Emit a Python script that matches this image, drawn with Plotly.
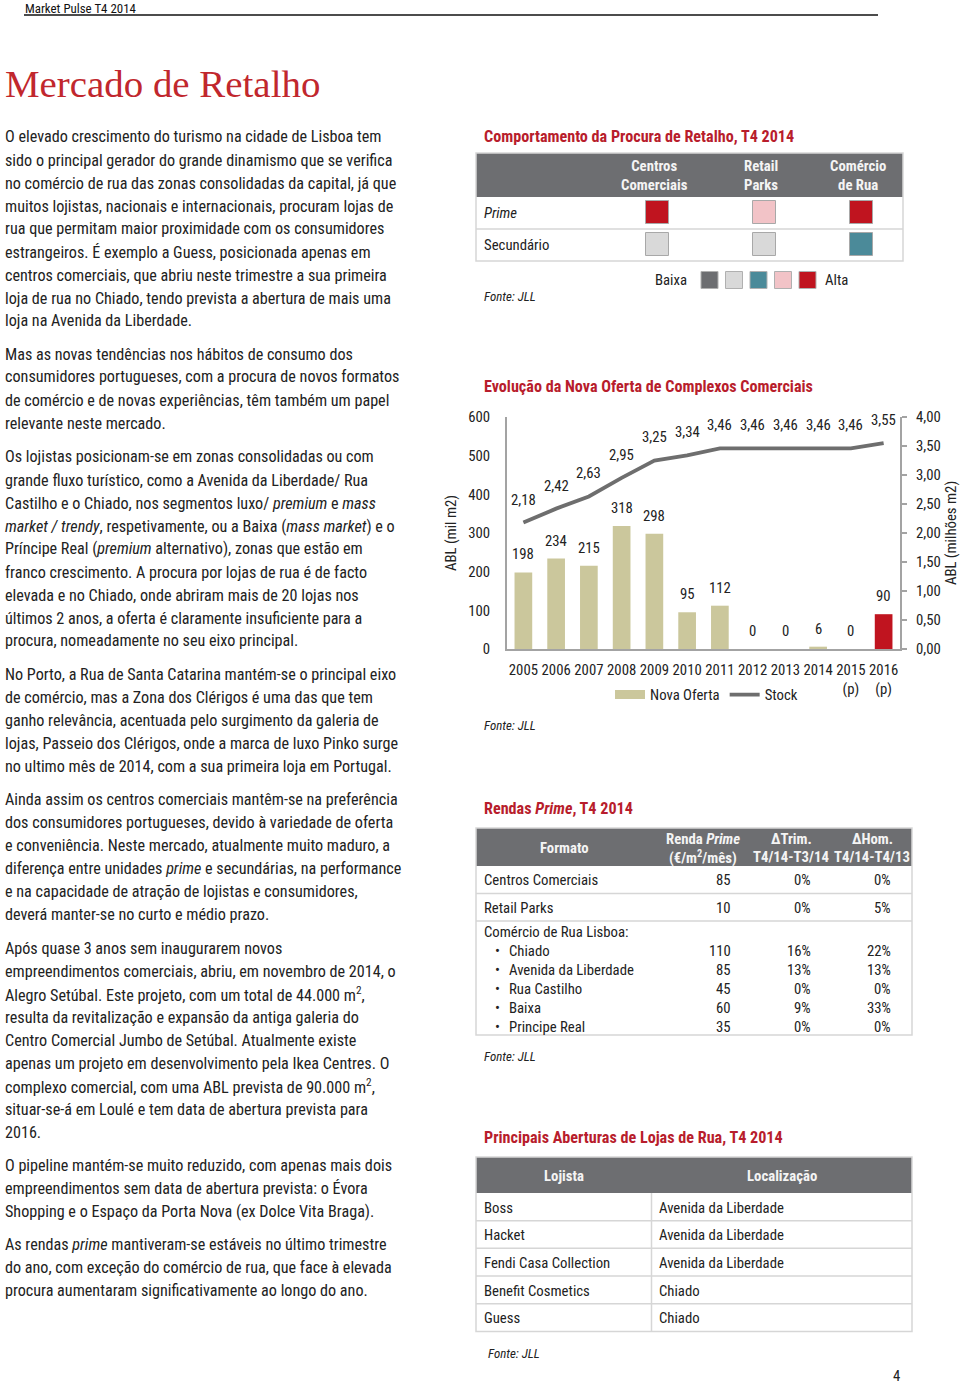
import plotly.graph_objects as go

W, H = 960, 1387

# ---------------- data ----------------
years = ["2005", "2006", "2007", "2008", "2009", "2010", "2011", "2012", "2013", "2014", "2015 (p)", "2016 (p)"]
year_labels = ["2005", "2006", "2007", "2008", "2009", "2010", "2011", "2012", "2013", "2014", "2015<br>(p)", "2016<br>(p)"]
nova_oferta = [198, 234, 215, 318, 298, 95, 112, 0, 0, 6, 0, 90]
stock = [2.18, 2.42, 2.63, 2.95, 3.25, 3.34, 3.46, 3.46, 3.46, 3.46, 3.46, 3.55]
left_ticks = [0, 100, 200, 300, 400, 500, 600]
right_ticks = [0, 0.5, 1, 1.5, 2, 2.5, 3, 3.5, 4]

procura_cols = ["Centros<br>Comerciais", "Retail<br>Parks", "Comércio<br>de Rua"]
procura_rows = ["<i>Prime</i>", "Secundário"]
procura_levels = [[4, 3, 4], [1, 1, 2]]   # 0 = Baixa ... 4 = Alta
level_colors = ["#6D6E71", "#D9D9D9", "#4B8A99", "#F2C3C7", "#C0141F"]

rendas_formato = ["Centros Comerciais", "Retail Parks", "Comércio de Rua Lisboa:", "Chiado",
                  "Avenida da Liberdade", "Rua Castilho", "Baixa", "Principe Real"]
rendas_bullet = [False, False, False, True, True, True, True, True]
rendas_valor = ["85", "10", "", "110", "85", "45", "60", "35"]
rendas_trim = ["0%", "0%", "", "16%", "13%", "0%", "9%", "0%"]
rendas_hom = ["0%", "5%", "", "22%", "13%", "0%", "33%", "0%"]

lojistas = ["Boss", "Hacket", "Fendi Casa Collection", "Benefit Cosmetics", "Guess"]
localizacao = ["Avenida da Liberdade", "Avenida da Liberdade", "Avenida da Liberdade", "Chiado", "Chiado"]

paragraphs = [
    ["O elevado crescimento do turismo na cidade de Lisboa tem",
     "sido o principal gerador do grande dinamismo que se verifica",
     "no comércio de rua das zonas consolidadas da capital, já que",
     "muitos lojistas, nacionais e internacionais, procuram lojas de",
     "rua que permitam maior proximidade com os consumidores",
     "estrangeiros. É exemplo a Guess, posicionada apenas em",
     "centros comerciais, que abriu neste trimestre a sua primeira",
     "loja de rua no Chiado, tendo prevista a abertura de mais uma",
     "loja na Avenida da Liberdade."],
    ["Mas as novas tendências nos hábitos de consumo dos",
     "consumidores portugueses, com a procura de novos formatos",
     "de comércio e de novas experiências, têm também um papel",
     "relevante neste mercado."],
    ["Os lojistas posicionam-se em zonas consolidadas ou com",
     "grande fluxo turístico, como a Avenida da Liberdade/ Rua",
     "Castilho e o Chiado, nos segmentos luxo/ <i>premium</i> e <i>mass</i>",
     "<i>market / trendy</i>, respetivamente, ou a Baixa (<i>mass market</i>) e o",
     "Príncipe Real (<i>premium</i> alternativo), zonas que estão em",
     "franco crescimento. A procura por lojas de rua é de facto",
     "elevada e no Chiado, onde abriram mais de 20 lojas nos",
     "últimos 2 anos, a oferta é claramente insuficiente para a",
     "procura, nomeadamente no seu eixo principal."],
    ["No Porto, a Rua de Santa Catarina mantém-se o principal eixo",
     "de comércio, mas a Zona dos Clérigos é uma das que tem",
     "ganho relevância, acentuada pelo surgimento da galeria de",
     "lojas, Passeio dos Clérigos, onde a marca de luxo Pinko surge",
     "no ultimo mês de 2014, com a sua primeira loja em Portugal."],
    ["Ainda assim os centros comerciais mantêm-se na preferência",
     "dos consumidores portugueses, devido à variedade de oferta",
     "e conveniência. Neste mercado, atualmente muito maduro, a",
     "diferença entre unidades <i>prime</i> e secundárias, na performance",
     "e na capacidade de atração de lojistas e consumidores,",
     "deverá manter-se no curto e médio prazo."],
    ["Após quase 3 anos sem inaugurarem novos",
     "empreendimentos comerciais, abriu, em novembro de 2014, o",
     "Alegro Setúbal. Este projeto, com um total de 44.000 m<sup>2</sup>,",
     "resulta da revitalização e expansão da antiga galeria do",
     "Centro Comercial Jumbo de Setúbal. Atualmente existe",
     "apenas um projeto em desenvolvimento pela Ikea Centres. O",
     "complexo comercial, com uma ABL prevista de 90.000 m<sup>2</sup>,",
     "situar-se-á em Loulé e tem data de abertura prevista para",
     "2016."],
    ["O pipeline mantém-se muito reduzido, com apenas mais dois",
     "empreendimentos sem data de abertura prevista: o Évora",
     "Shopping e o Espaço da Porta Nova (ex Dolce Vita Braga)."],
    ["As rendas <i>prime</i> mantiveram-se estáveis no último trimestre",
     "do ano, com exceção do comércio de rua, que face à elevada",
     "procura aumentaram significativamente ao longo do ano."],
]
paragraph_top = [137, 354, 457, 674, 799, 948, 1165, 1244]

# ---------------- style ----------------
NARROW = "Roboto Condensed, Liberation Sans Narrow, Arial Narrow, sans-serif"
K = 0.923  # size factor so Roboto Condensed matches the original narrow face widths
SERIF = "Liberation Serif, Times New Roman, serif"
TXT = "#222222"
RED = "#B81D2C"
HEAD = "#6D6E71"
GRID = "#D6D6D6"
AX = "#A3A3A3"
BEIGE = "#CBC79C"
BAR_RED = "#C0141F"
LINE = "#6E6E6E"
S_BODY = 17.5 * K
S_HEAD = 17.5 * K
S_TAB = 16 * K
S_SRC = 14 * K

annotations = []
shapes = []


def X(x):
    return x / W


def Y(y):
    return 1 - y / H


def txt(x, y, s, size=S_BODY, color=TXT, anchor="left", family=NARROW, vanchor="middle"):
    if not s:
        return
    annotations.append(dict(xref="paper", yref="paper", x=X(x), y=Y(y), text=s, showarrow=False,
                            xanchor=anchor, yanchor=vanchor, align=anchor if anchor != "center" else "center",
                            font=dict(family=family, size=size, color=color), borderpad=0))


def rect(x0, y0, x1, y1, fill="rgba(0,0,0,0)", line="rgba(0,0,0,0)", lw=1):
    shapes.append(dict(type="rect", xref="paper", yref="paper", x0=X(x0), x1=X(x1), y0=Y(y1), y1=Y(y0),
                       fillcolor=fill, line=dict(color=line, width=lw), layer="above"))


def seg(x0, y0, x1, y1, color=GRID, lw=1.5):
    shapes.append(dict(type="line", xref="paper", yref="paper", x0=X(x0), x1=X(x1), y0=Y(y0), y1=Y(y1),
                       line=dict(color=color, width=lw), layer="above"))


# ---------------- page header ----------------
txt(24, 0, "Market Pulse T4 2014", size=14 * K, color="#111111", vanchor="top")
seg(24, 15, 878, 15, color="#111111", lw=1.5)
txt(4, 83, "Mercado de Retalho", size=38.9, color="#C1272D", family=SERIF)

for top, lines in zip(paragraph_top, paragraphs):
    for i, line in enumerate(lines):
        txt(4, top + 23 * i, line)

# ---------------- table: comportamento da procura ----------------
txt(483, 137, "<b>Comportamento da Procura de Retalho, T4 2014</b>", size=S_HEAD, color=RED)
rect(476, 153, 903, 197, fill=HEAD)
rect(476, 153, 903, 261, line=GRID, lw=1.5)
seg(476, 229, 903, 229)
col_cx = [654, 761, 858]
row_cy = [213, 245]
for cx, name in zip(col_cx, procura_cols):
    txt(cx, 175, "<b>" + name + "</b>", size=S_TAB, color="#F4F4F4", anchor="center")
for r, name in enumerate(procura_rows):
    txt(483, row_cy[r], name, size=S_TAB)
    for c, lvl in enumerate(procura_levels[r]):
        cx, cy = col_cx[c] + 3, row_cy[r] - 1
        rect(cx - 11.5, cy - 11.5, cx + 11.5, cy + 11.5, fill=level_colors[lvl], line="#A8A8A8", lw=1)
txt(688, 280, "Baixa", size=S_TAB, anchor="right")
for k, col in enumerate(level_colors):
    cx = 709.5 + 24.5 * k
    rect(cx - 8.5, 271.5, cx + 8.5, 288.5, fill=col, line="#B0B0B0", lw=1)
txt(824, 280, "Alta", size=S_TAB)
txt(483, 296, "<i>Fonte: JLL</i>", size=S_SRC)

# ---------------- chart: evolução da nova oferta ----------------
txt(483, 386, "<b>Evolução da Nova Oferta de Complexos Comerciais</b>", size=S_HEAD, color=RED)
txt(483, 725, "<i>Fonte: JLL</i>", size=S_SRC)

bar_colors = [BAR_RED if y == "2016 (p)" else BEIGE for y in years]

fig = go.Figure()
fig.add_trace(go.Bar(x=years, y=nova_oferta, marker=dict(color=bar_colors, line=dict(width=0)),
                     name="Nova Oferta", showlegend=False, yaxis="y"))
fig.add_trace(go.Scatter(x=[None], y=[None], mode="lines", line=dict(color=BEIGE, width=9),
                         name="Nova Oferta", yaxis="y", hoverinfo="skip"))
fig.add_trace(go.Scatter(x=years, y=stock, mode="lines", line=dict(color=LINE, width=3.8),
                         name="Stock", yaxis="y2"))

for i, v in enumerate(nova_oferta):
    annotations.append(dict(xref="x", yref="y", x=i, y=v, text=str(v), showarrow=False,
                            yanchor="bottom", yshift=7, font=dict(family=NARROW, size=S_TAB, color=TXT)))
for i, v in enumerate(stock):
    annotations.append(dict(xref="x", yref="y2", x=i, y=v, text=f"{v:.2f}".replace(".", ","),
                            showarrow=False, yanchor="bottom", yshift=12,
                            font=dict(family=NARROW, size=S_TAB, color=TXT)))

# ---------------- table: rendas prime ----------------
txt(483, 808, "<b>Rendas <i>Prime</i>, T4 2014</b>", size=S_HEAD, color=RED)
rect(476, 828, 912, 866, fill=HEAD)
rect(476, 828, 912, 1035, line=GRID, lw=1.5)
seg(476, 893.5, 912, 893.5)
seg(476, 921, 912, 921)
hc = "#F4F4F4"
txt(564, 848, "<b>Formato</b>", size=S_TAB, color=hc, anchor="center")
txt(703, 839, "<b>Renda <i>Prime</i></b>", size=S_TAB, color=hc, anchor="center")
txt(703, 857, "<b>(€/m<sup>2</sup>/mês)</b>", size=S_TAB, color=hc, anchor="center")
txt(791, 839, "<b>ΔTrim.</b>", size=S_TAB, color=hc, anchor="center")
txt(791, 857, "<b>T4/14-T3/14</b>", size=S_TAB, color=hc, anchor="center")
txt(872, 839, "<b>ΔHom.</b>", size=S_TAB, color=hc, anchor="center")
txt(872, 857, "<b>T4/14-T4/13</b>", size=S_TAB, color=hc, anchor="center")
rendas_y = [879.5, 907.5, 932, 950.5, 969.5, 988.5, 1007.5, 1026.5]
for i in range(len(rendas_formato)):
    y = rendas_y[i]
    if rendas_bullet[i]:
        txt(494, y, "•", size=S_TAB)
        txt(508, y, rendas_formato[i], size=S_TAB)
    else:
        txt(483, y, rendas_formato[i], size=S_TAB)
    txt(732, y, rendas_valor[i], size=S_TAB, anchor="right")
    txt(812, y, rendas_trim[i], size=S_TAB, anchor="right")
    txt(892, y, rendas_hom[i], size=S_TAB, anchor="right")
txt(483, 1056, "<i>Fonte: JLL</i>", size=S_SRC)

# ---------------- table: aberturas ----------------
txt(483, 1137, "<b>Principais Aberturas de Lojas de Rua, T4 2014</b>", size=S_HEAD, color=RED)
rect(476, 1157, 912, 1193, fill=HEAD)
rect(476, 1157, 912, 1331.5, line=GRID, lw=1.5)
seg(651.5, 1193, 651.5, 1331.5)
txt(564, 1176, "<b>Lojista</b>", size=S_TAB, color=hc, anchor="center")
txt(782, 1176, "<b>Localização</b>", size=S_TAB, color=hc, anchor="center")
row_tops = [1193, 1220.7, 1248.3, 1276, 1303.7]
for i, (lj, lc) in enumerate(zip(lojistas, localizacao)):
    if i > 0:
        seg(476, row_tops[i], 912, row_tops[i])
    cy = row_tops[i] + 14.5
    txt(483, cy, lj, size=S_TAB)
    txt(658, cy, lc, size=S_TAB)
txt(487, 1353, "<i>Fonte: JLL</i>", size=S_SRC)
txt(896, 1386, "4", size=S_TAB, anchor="center", vanchor="bottom")

# ---------------- layout ----------------
fig.update_layout(
    width=W, height=H, autosize=False,
    margin=dict(l=0, r=0, t=0, b=0, pad=0, autoexpand=False),
    paper_bgcolor="white", plot_bgcolor="rgba(0,0,0,0)",
    separators=", ",
    bargap=0.46,
    showlegend=True,
    legend=dict(orientation="h", x=X(610), y=Y(695), xanchor="left", yanchor="middle",
                font=dict(family=NARROW, size=S_TAB, color=TXT), bgcolor="rgba(0,0,0,0)",
                itemwidth=30, traceorder="normal"),
    xaxis=dict(domain=[X(507), X(900)], type="category", range=[-0.5, 11.5], tickmode="array",
               tickvals=years, ticktext=year_labels, showline=True, linecolor=AX, linewidth=2, ticks="",
               showgrid=False, tickfont=dict(family=NARROW, size=S_TAB, color=TXT),
               ticklabelstandoff=6, fixedrange=True, automargin=False),
    yaxis=dict(domain=[Y(649), Y(417)], range=[0, 600], tickmode="array", tickvals=left_ticks,
               showline=True, linecolor=AX, linewidth=2, ticks="", showgrid=False, zeroline=False,
               tickfont=dict(family=NARROW, size=S_TAB, color=TXT), ticklabelstandoff=12,
               title=dict(text="ABL (mil m2)", font=dict(family=NARROW, size=S_TAB, color=TXT), standoff=8),
               fixedrange=True, automargin=False),
    yaxis2=dict(overlaying="y", side="right", anchor="x", range=[0, 4], tickmode="array",
                tickvals=right_ticks, tickformat=".2f", showline=True, linecolor=AX, linewidth=2,
                ticks="outside", ticklen=5, tickwidth=2, tickcolor=AX, showgrid=False, zeroline=False,
                tickfont=dict(family=NARROW, size=S_TAB, color=TXT), ticklabelstandoff=6,
                title=dict(text="ABL (milhões m2)", font=dict(family=NARROW, size=S_TAB, color=TXT), standoff=6),
                fixedrange=True, automargin=False),
    annotations=annotations,
    shapes=shapes,
)

page_css = ("var s=document.createElement('style');"
            "s.textContent='html,body{margin:0!important;padding:0!important;overflow:hidden!important;"
            "width:960px!important;height:1387px!important}"
            "body>div{margin:0!important;padding:0!important;line-height:0;font-size:0}';"
            "document.head.appendChild(s);")
fig.write_html("out.html", config={"displayModeBar": False}, post_script=page_css)
